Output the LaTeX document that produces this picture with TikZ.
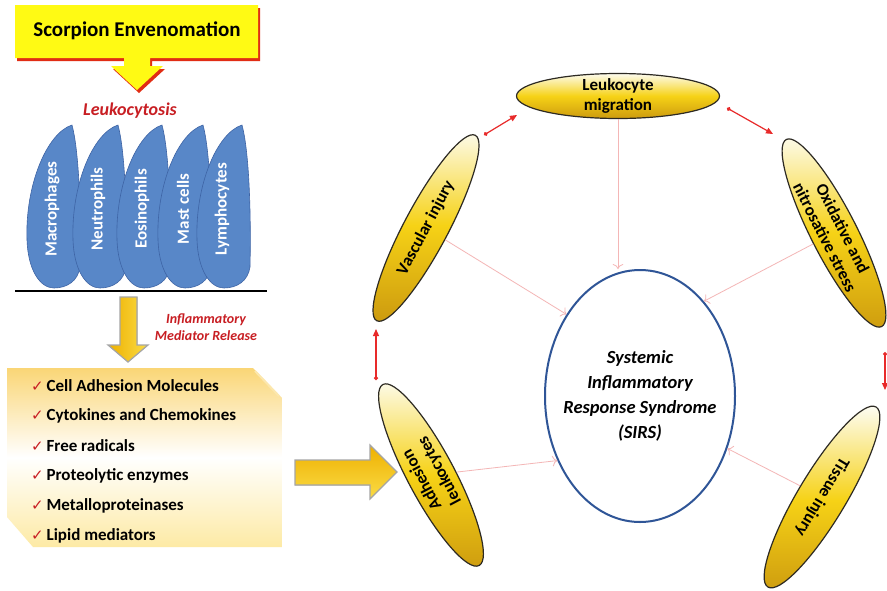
\documentclass[tikz,border=0pt]{standalone}
\usepackage{fontspec}
\setmainfont{Carlito}
\newfontfamily\symfont{DejaVu Sans}
\usetikzlibrary{positioning,arrows.meta,calc,shapes.geometric}

\definecolor{capred}{RGB}{200,30,35}
\definecolor{shadowred}{RGB}{225,45,20}
\definecolor{calloutyellow}{RGB}{255,250,20}
\definecolor{cellblue}{RGB}{88,135,200}
\definecolor{cellline}{RGB}{62,100,165}
\definecolor{lozline}{RGB}{45,42,35}
\definecolor{lozlight}{RGB}{253,252,240}
\definecolor{lozgold}{RGB}{246,210,22}
\definecolor{lozdark}{RGB}{205,155,15}
\definecolor{sirsblue}{RGB}{47,85,151}
\definecolor{linkpink}{RGB}{244,182,182}
\definecolor{linkred}{RGB}{232,42,42}
\definecolor{arrowdark}{RGB}{238,176,0}
\definecolor{arrowlight}{RGB}{250,220,70}
\definecolor{arrowgray}{RGB}{165,165,165}
\definecolor{boxgold}{RGB}{250,214,118}
\definecolor{boxyellow}{RGB}{253,234,165}

\newcommand{\calloutpath}{(15,5) -- (258,5) -- (258,58) -- (150,58) -- (150,66)
  -- (163,66) -- (137,90) -- (111,66) -- (124,66) -- (124,58) -- (15,58) -- cycle}
\newcommand{\tick}{\textcolor{capred}{\symfont\fontsize{15}{17}\selectfont\char"2713}\,}

\begin{document}
\begin{tikzpicture}[x=1pt,y=-1pt]

  \tikzset{
    titletext/.style={inner sep=0pt, font=\fontsize{21}{25}\selectfont\bfseries},
    lozenge/.style={ellipse, draw=lozline, line width=1.2pt,
      top color=lozlight, bottom color=lozdark, middle color=lozgold,
      minimum width=210pt, minimum height=44pt, inner sep=0pt},
    lozlabel/.style={align=center, inner sep=0pt,
      font=\fontsize{17}{20}\selectfont\bfseries},
    sirsring/.style={ellipse, draw=sirsblue, line width=2pt, fill=white,
      minimum width=190pt, minimum height=252pt, inner sep=0pt},
    sirstext/.style={align=center, inner sep=0pt,
      font=\fontsize{18.5}{25}\selectfont\bfseries\itshape},
    celltext/.style={text=white, rotate=90, inner sep=0pt,
      font=\fontsize{17}{20}\selectfont\bfseries},
    itemtext/.style={anchor=west, inner sep=0pt,
      font=\fontsize{17}{20}\selectfont\bfseries},
    leaf/.style={fill=cellblue, draw=cellline, line width=0.6pt},
    goldarrow/.style={draw=arrowgray, line width=1.2pt},
    listbox/.style={top color=boxgold, bottom color=boxyellow, middle color=white},
    pinklink/.style={draw=linkpink, line width=0.8pt, -{To[length=5pt]}},
    redlink/.style={draw=linkred, line width=1.2pt,
      {Circle[length=4pt]}-{Triangle[length=7pt,width=6pt]}},
  }

  \path[use as bounding box, fill=white] (0,0) rectangle (887,590);

  % callout at the top
  \fill[shadowred, shift={(2,3)}] \calloutpath;
  \fill[calloutyellow] \calloutpath;
  \node[titletext] (title) at (137,31) {Scorpion Envenomation};

  \node[text=capred, inner sep=0pt, font=\fontsize{18}{22}\selectfont\bfseries\itshape]
    (leukocytosis) at (130,111) {Leukocytosis};

  % the five cells
  \foreach \tx/\name/\lbl in {72/mac/Macrophages, 118/neu/Neutrophils,
      162/eos/Eosinophils, 203/mast/Mast cells, 242/lym/Lymphocytes} {
    \filldraw[leaf, shift={(\tx,125)}] (0,0) .. controls (-25,8) and (-47,60) .. (-45,115)
      .. controls (-44,145) and (-32,163) .. (-18,163)
      .. controls (-5,163) and (6,156) .. (8,142)
      .. controls (9,100) and (8,30) .. (0,0) -- cycle;
    \node[celltext] (\name) at ({\tx-20},209) {\lbl};
  }
  \draw[line width=2pt] (15,291) -- (267,291);

  % release arrow
  \filldraw[goldarrow, left color=arrowdark, right color=arrowlight]
    (120,297) -- (137,297) -- (137,345) -- (148,345) -- (128,362) -- (108,345) -- (120,345) -- cycle;
  \node[text=capred, align=center, inner sep=0pt,
    font=\fontsize{14}{17}\selectfont\bfseries\itshape] (release) at (206,327)
    {Inflammatory\\Mediator Release};

  % mediator list
  \path[listbox] (7,368) -- (253,368) -- (282,398) -- (282,547) -- (33,547) -- (7,517) -- cycle;
  \draw[white!40!boxgold, line width=2pt] (255,371) -- (279,396);
  \foreach \lbl [count=\i] in {Cell Adhesion Molecules, Cytokines and Chemokines,
      Free radicals, Proteolytic enzymes, Metalloproteinases, Lipid mediators}
    \node[itemtext] (item\i) at (31,{355+30.2*\i}) {\tick\lbl};

  \filldraw[goldarrow, top color=arrowdark, bottom color=arrowlight]
    (295,460) -- (370,460) -- (370,445) -- (397,472) -- (370,499) -- (370,485) -- (295,485) -- cycle;

  % SIRS and its causes
  \node[sirsring] (sirs) at (640,396) {};
  \node[sirstext] (sirs-t) at (sirs) {Systemic\\Inflammatory\\Response Syndrome\\(SIRS)};

  \node[lozenge, minimum width=203pt, minimum height=45pt] (mig) at (618,96) {};
  \node[lozlabel] (mig-t) at (mig) {Leukocyte\\migration};
  \node[lozenge, rotate=62] (vasc) at (426,228) {};
  \node[lozlabel, rotate=62] (vasc-t) at (vasc) {Vascular injury};
  \node[lozenge, rotate=-63, minimum height=46pt] (oxi) at (834,233) {};
  \node[lozlabel, rotate=-63] (oxi-t) at (oxi) {Oxidative and\\nitrosative stress};
  \node[lozenge, rotate=118, minimum height=47pt, minimum width=205pt] (adh) at (431,475) {};
  \node[lozlabel, rotate=118] (adh-t) at (adh) {Adhesion\\leukocytes};
  \node[lozenge, rotate=-121, minimum height=48pt] (tis) at (822,497) {};
  \node[lozlabel, rotate=-121] (tis-t) at (tis) {Tissue injury};

  \draw[pinklink] (mig.south) -- (mig.south |- sirs.north);
  \draw[pinklink] (vasc) -- (sirs.132);
  \draw[pinklink] (oxi) -- (sirs.56);
  \draw[pinklink] (adh) -- (sirs.218);
  \draw[pinklink] (tis) -- (sirs.329);

  % red links round the ring
  \coordinate (vm1) at (484,135);
  \coordinate (vm2) at (517,115);
  \coordinate (mo1) at (727,108);
  \coordinate (mo2) at (773,134);
  \coordinate (av1) at (376,380);
  \coordinate (av2) at (376,329);
  \coordinate (ot1) at (885,352);
  \coordinate (ot2) at (885,390);
  \draw[redlink] (vm1) -- (vm2);
  \draw[redlink] (mo1) -- (mo2);
  \draw[redlink] (av1) -- (av2);
  \draw[redlink] (ot1) -- (ot2);

\end{tikzpicture}
\end{document}
